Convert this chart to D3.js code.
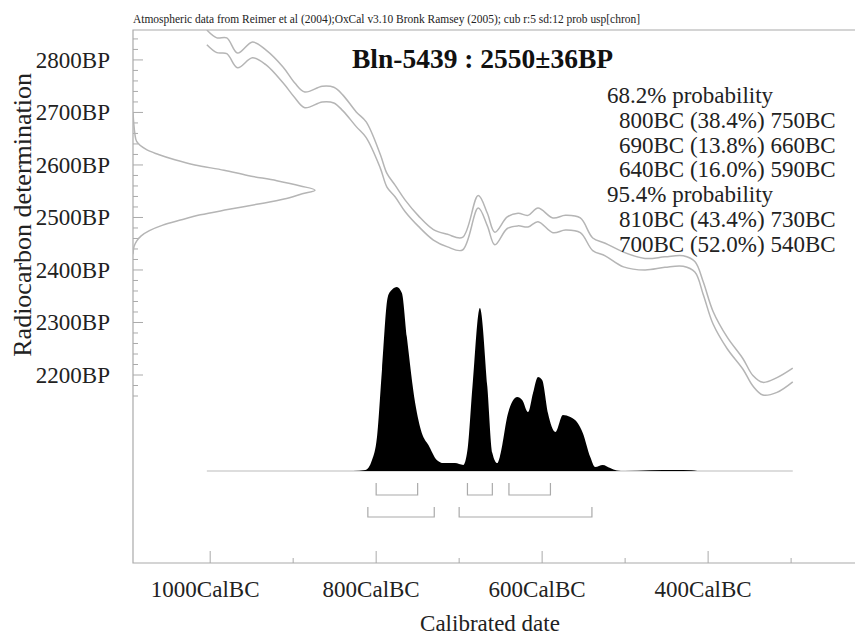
<!DOCTYPE html>
<html>
<head>
<meta charset="utf-8">
<script src="https://cdn.jsdelivr.net/npm/d3@7"></script>
<style>
  body { margin: 0; background: #fff; }
  svg { display: block; font-family: "Liberation Serif", "Times New Roman", serif; }
</style>
</head>
<body>
<svg id="chart" width="855" height="637"></svg>
<script>
// calibration curve (years BC, mean BP, 1 sigma BP)
const curveYears = [1004, 992, 980, 967, 949, 933, 912, 898, 886, 865, 851, 840, 824, 812, 795, 787, 777, 765, 749, 731, 714, 696, 677, 666, 657, 642, 629, 617, 605, 587, 572, 554, 539, 524, 502, 476, 452, 430, 416, 406, 394, 377, 358, 346, 334, 317, 298];
const curveBP = [2843, 2828, 2827, 2799, 2819, 2805, 2771, 2742, 2724, 2735, 2733, 2718, 2687, 2667, 2607, 2571, 2550, 2522, 2493, 2467, 2456, 2450, 2530, 2496, 2460, 2490, 2496, 2493, 2505, 2485, 2490, 2485, 2449, 2439, 2420, 2411, 2415, 2417, 2406, 2366, 2309, 2261, 2221, 2189, 2174, 2181, 2200];
const curveSigma = [14, 14, 15, 14, 15, 14, 15, 14, 15, 15, 15, 15, 14, 15, 13, 13, 11, 11, 10, 10, 12, 12, 12, 12, 12, 11, 12, 11, 13, 14, 14, 14, 12, 12, 14, 11, 10, 10, 10, 12, 12, 11, 10, 10, 12, 14, 13];

// calibrated probability (years BC, relative density)
const probYears = [1004, 835, 828, 813, 805, 799, 793, 786, 781, 775, 769, 763, 753, 745, 737, 727, 719, 705, 695, 690, 684, 675, 666, 660, 654, 651, 641, 630, 624, 617, 611, 605, 600, 593, 584, 575, 566, 557, 551, 542, 536, 527, 518, 510, 500, 470, 440, 420, 413, 298];
const probDensity = [0, 0, 0, 0.005, 0.06, 0.185, 0.55, 0.946, 0.985, 1.0, 0.967, 0.728, 0.37, 0.207, 0.141, 0.06, 0.043, 0.043, 0.033, 0.114, 0.457, 0.886, 0.457, 0.098, 0.043, 0.076, 0.315, 0.402, 0.386, 0.32, 0.424, 0.511, 0.495, 0.315, 0.212, 0.304, 0.293, 0.26, 0.207, 0.076, 0.022, 0.033, 0.016, 0.003, 0, 0.004, 0.006, 0.004, 0, 0];

// radiocarbon measurement 2550±36BP
const measBP = [2700, 2680, 2660, 2645, 2630, 2620, 2610, 2600, 2590, 2580, 2570, 2560, 2552, 2545, 2535, 2525, 2515, 2505, 2495, 2485, 2475, 2465, 2455, 2445, 2430];
const measDensity = [0, 0.004, 0.01, 0.02, 0.07, 0.14, 0.23, 0.34, 0.5, 0.63, 0.79, 0.92, 1.0, 0.93, 0.83, 0.68, 0.52, 0.37, 0.26, 0.16, 0.09, 0.045, 0.02, 0.006, 0];

const ranges68 = [[800, 750], [690, 660], [640, 590]];
const ranges95 = [[810, 730], [700, 540]];

const legendLines = [
  "68.2% probability",
  "  800BC (38.4%) 750BC",
  "  690BC (13.8%) 660BC",
  "  640BC (16.0%) 590BC",
  "95.4% probability",
  "  810BC (43.4%) 730BC",
  "  700BC (52.0%) 540BC"
];

const xTicks = d3.range(1000, 299, -100);
const xLabelTicks = [1000, 800, 600, 400];
const yTicks = d3.range(2160, 2841, 20);
const yLabelTicks = d3.range(2200, 2801, 100);

const headerText = "Atmospheric data from Reimer et al (2004);OxCal v3.10 Bronk Ramsey (2005); cub r:5 sd:12 prob usp[chron]";
const titleText = "Bln-5439 : 2550±36BP";

const svg = d3.select("#chart");
const plotLeft = 133, plotRight = 855, plotTop = 30, plotBottom = 563;
const base = 471;

const x = d3.scaleLinear().domain([1093, 223]).range([plotLeft, plotRight]);
const y = d3.scaleLinear().domain([1842, 2857]).range([plotBottom, plotTop]);
const probY = d3.scaleLinear().domain([0, 1]).range([base, 287]);
const measX = d3.scaleLinear().domain([0, 1]).range([plotLeft, 315]);

svg.append("rect").attr("width", 855).attr("height", 637).attr("fill", "#fff");

svg.append("defs").append("clipPath").attr("id", "plot")
  .append("rect").attr("x", plotLeft).attr("y", plotTop)
  .attr("width", plotRight - plotLeft).attr("height", plotBottom - plotTop);

// header
svg.append("text")
  .attr("x", plotLeft).attr("y", 23)
  .attr("font-size", 12)
  .attr("textLength", 507).attr("lengthAdjust", "spacingAndGlyphs")
  .attr("fill", "#222")
  .text(headerText);

// frame
svg.append("path")
  .attr("d", `M${plotRight},${plotTop}H${plotLeft}V${plotBottom}H${plotRight}`)
  .attr("fill", "none").attr("stroke", "#aaa").attr("stroke-width", 1.2);

// y ticks
svg.append("g").selectAll("line").data(yTicks).join("line")
  .attr("x1", plotLeft).attr("x2", d => plotLeft + (d % 100 === 0 ? 10 : 5))
  .attr("y1", d => y(d)).attr("y2", d => y(d))
  .attr("stroke", "#aaa");

svg.append("g").selectAll("text").data(yLabelTicks).join("text")
  .attr("x", 110).attr("y", d => y(d) + 8)
  .attr("text-anchor", "end").attr("font-size", 23).attr("fill", "#222")
  .text(d => d + "BP");

// x ticks
svg.append("g").selectAll("line").data(xTicks).join("line")
  .attr("x1", d => x(d)).attr("x2", d => x(d))
  .attr("y1", plotBottom).attr("y2", d => plotBottom - (d % 200 === 0 ? 12 : 5))
  .attr("stroke", "#aaa");

svg.append("g").selectAll("text").data(xLabelTicks).join("text")
  .attr("x", d => x(d) - 5).attr("y", 597)
  .attr("text-anchor", "middle").attr("font-size", 23).attr("fill", "#222")
  .text(d => d + "CalBC");

// axis titles
svg.append("text")
  .attr("x", 490).attr("y", 631)
  .attr("text-anchor", "middle").attr("font-size", 23).attr("fill", "#222")
  .text("Calibrated date");

svg.append("text")
  .attr("transform", "translate(31,73) rotate(-90)")
  .attr("text-anchor", "end").attr("font-size", 26).attr("fill", "#222")
  .text("Radiocarbon determination");

const plot = svg.append("g").attr("clip-path", "url(#plot)");

// calibration curve, mean +/- 1 sigma
const curveData = curveYears.map((yr, i) => ({ yr, bp: curveBP[i], s: curveSigma[i] }));
[1, -1].forEach(sign => {
  plot.append("path")
    .datum(curveData)
    .attr("fill", "none").attr("stroke", "#b5b5b5").attr("stroke-width", 1.5)
    .attr("d", d3.line().curve(d3.curveCatmullRom)
      .x(d => x(d.yr)).y(d => y(d.bp + sign * d.s)));
});

// measurement distribution on y axis
plot.append("path")
  .datum(measBP.map((bp, i) => ({ bp, p: measDensity[i] })))
  .attr("fill", "none").attr("stroke", "#b5b5b5").attr("stroke-width", 1.5)
  .attr("d", d3.line().curve(d3.curveCatmullRom)
    .x(d => measX(d.p)).y(d => y(d.bp)));

// calibrated distribution
const probData = probYears.map((yr, i) => ({ yr, p: probDensity[i] }));
plot.append("line")
  .attr("x1", x(probYears[0])).attr("x2", x(probYears[probYears.length - 1]))
  .attr("y1", base).attr("y2", base)
  .attr("stroke", "#bbb").attr("stroke-width", 1.2);

plot.append("path")
  .datum(probData.filter((d, i) => i > 0 && i < probData.length - 1))
  .attr("fill", "#000").attr("stroke", "none")
  .attr("d", d3.area().curve(d3.curveMonotoneX)
    .x(d => x(d.yr)).y0(base).y1(d => probY(d.p)));

// range brackets
function brackets(ranges, y0, y1) {
  svg.append("g").selectAll("path").data(ranges).join("path")
    .attr("d", d => `M${x(d[0])},${y0}V${y1}H${x(d[1])}V${y0}`)
    .attr("fill", "none").attr("stroke", "#aaa").attr("stroke-width", 1.2);
}
brackets(ranges68, 483, 495);
brackets(ranges95, 507, 517);

// title and legend
svg.append("text")
  .attr("x", 352).attr("y", 68)
  .attr("font-size", 27.5).attr("font-weight", "bold").attr("fill", "#111")
  .text(titleText);

svg.append("g").selectAll("text").data(legendLines).join("text")
  .attr("x", d => d.startsWith(" ") ? 619 : 607)
  .attr("y", (d, i) => 103 + i * 24.8)
  .attr("font-size", 23).attr("fill", "#222")
  .text(d => d.trim());
</script>
</body>
</html>
